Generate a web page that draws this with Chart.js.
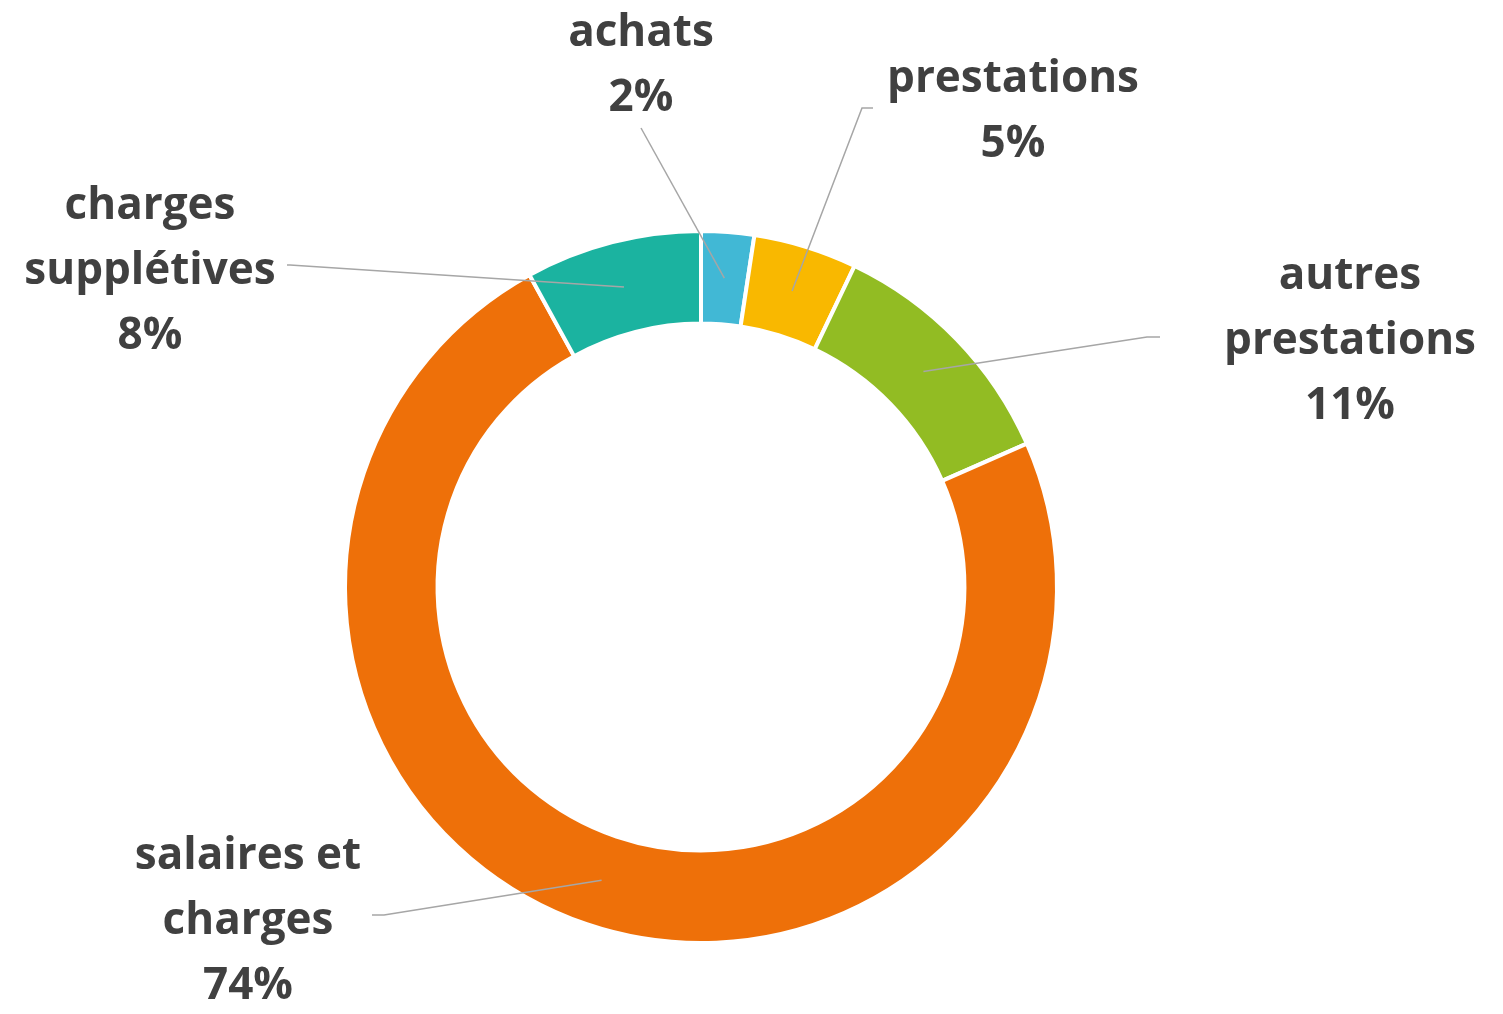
<!DOCTYPE html>
<html>
<head>
<meta charset="utf-8">
<script src="https://cdn.jsdelivr.net/npm/chart.js@4"></script>
<style>
  body { margin: 0; background: #fff; }
  #wrap { width: 1503px; height: 1014px; }
</style>
</head>
<body>
<div id="wrap"><canvas id="myChart" width="1503" height="1014"></canvas></div>
<script>
// categories (multi-line labels) and shares
const categories = [
  ['achats'],
  ['prestations'],
  ['autres', 'prestations'],
  ['salaires et', 'charges'],
  ['charges', 'supplétives']
]
const values = [2.4, 4.7, 11.3, 73.6, 8.0]
const colors = ['#41B8D5', '#F9B800', '#92BC23', '#EE7009', '#1BB3A0']

// where each label sits, relative to the doughnut centre
const labelLayout = [
  { tx: -60, ty: -554, line: [[-60, -459]] },
  { tx: 312, ty: -508, line: [[161, -479], [172, -479]] },
  { tx: 649, ty: -311, line: [[446, -250], [459, -250]] },
  { tx: -453, ty: 269, line: [[-317, 328], [-329, 328]] },
  { tx: -551, ty: -381, line: [[-411, -322], [-414, -322]] }
]

const outsideLabels = {
  id: 'outsideLabels',
  afterDatasetsDraw: function(chart) {
    const ctx = chart.ctx
    const meta = chart.getDatasetMeta(0)
    const data = chart.data.datasets[0].data
    const total = data.reduce((a, b) => a + b, 0)
    meta.data.forEach((arc, i) => {
      const p = arc.getProps(['x', 'y', 'startAngle', 'endAngle', 'innerRadius', 'outerRadius'], true)
      const mid = (p.startAngle + p.endAngle) / 2
      const r = (p.innerRadius + p.outerRadius) / 2
      const ax = p.x + Math.cos(mid) * r
      const ay = p.y + Math.sin(mid) * r
      const lay = labelLayout[i]

      // leader line
      ctx.save()
      ctx.strokeStyle = '#A6A6A6'
      ctx.lineWidth = 1.5
      ctx.beginPath()
      ctx.moveTo(ax, ay)
      lay.line.forEach(pt => ctx.lineTo(p.x + pt[0], p.y + pt[1]))
      ctx.stroke()
      ctx.restore()

      // text
      const lines = chart.data.labels[i].concat([Math.round(data[i] / total * 100) + '%'])
      ctx.save()
      ctx.fillStyle = '#404040'
      ctx.font = 'bold 44px "Open Sans", sans-serif'
      ctx.textAlign = 'center'
      ctx.textBaseline = 'middle'
      lines.forEach((txt, k) => {
        ctx.fillText(txt, p.x + lay.tx, p.y + lay.ty + k * 65)
      })
      ctx.restore()
    })
  }
}

const ctx = document.getElementById('myChart')
const myChart = new Chart(ctx, {
  type: 'doughnut',
  data: {
    labels: categories,
    datasets: [{
      data: values,
      backgroundColor: colors,
      borderColor: '#ffffff',
      borderWidth: 4,
      hoverOffset: 0
    }]
  },
  options: {
    responsive: false,
    animation: false,
    cutout: '74%',
    layout: {
      padding: { top: 229, bottom: 69, left: 343, right: 444 }
    },
    plugins: {
      legend: { display: false },
      tooltip: { enabled: false }
    }
  },
  plugins: [outsideLabels]
})
</script>
</body>
</html>
